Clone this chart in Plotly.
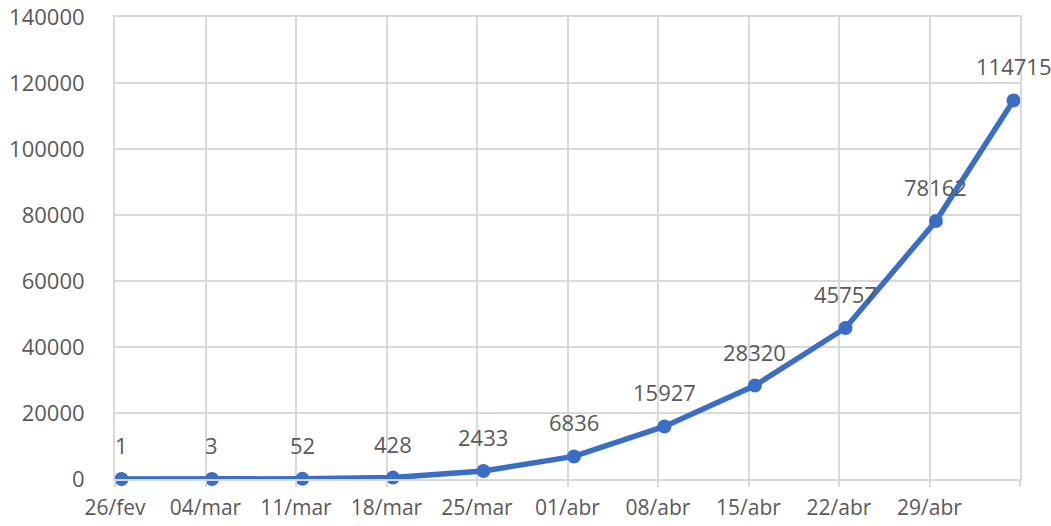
import pandas as pd
import plotly.graph_objects as go

# Weekly cumulative counts
dates = ["2020-02-26", "2020-03-04", "2020-03-11", "2020-03-18", "2020-03-25",
         "2020-04-01", "2020-04-08", "2020-04-15", "2020-04-22", "2020-04-29",
         "2020-05-05"]
cases = [1, 3, 52, 428, 2433, 6836, 15927, 28320, 45757, 78162, 114715]

# Axis ticks (weekly)
tick_dates = ["2020-02-26", "2020-03-04", "2020-03-11", "2020-03-18", "2020-03-25",
              "2020-04-01", "2020-04-08", "2020-04-15", "2020-04-22", "2020-04-29",
              "2020-05-06"]
tick_labels = ["26/fev", "04/mar", "11/mar", "18/mar", "25/mar",
               "01/abr", "08/abr", "15/abr", "22/abr", "29/abr", ""]
y_ticks = [0, 20000, 40000, 60000, 80000, 100000, 120000, 140000]

# points sit in the middle of each day unit
x_pts = pd.to_datetime(dates) + pd.Timedelta(hours=12)

LINE = "#3A6DC4"
TEXT = "#595959"
GRID = "#D9D9D9"
FONT = "Open Sans"

fig = go.Figure()
fig.add_trace(go.Scatter(
    x=x_pts, y=cases, mode="lines+markers",
    line=dict(color=LINE, width=5.5),
    marker=dict(color=LINE, size=14),
    cliponaxis=False, hoverinfo="skip", showlegend=False,
))

for xv, yv in zip(x_pts, cases):
    fig.add_annotation(
        x=xv, y=yv, text=str(yv), showarrow=False, yshift=34,
        font=dict(family=FONT, size=22, color=TEXT),
    )

fig.update_layout(
    width=1051, height=526,
    margin=dict(l=115, r=31, t=17, b=47),
    paper_bgcolor="white", plot_bgcolor="white",
    font=dict(family=FONT, size=22, color=TEXT),
)
fig.update_xaxes(
    type="date", automargin=False,
    range=[tick_dates[0], tick_dates[-1]],
    tickvals=tick_dates, ticktext=tick_labels,
    tickfont=dict(family=FONT, size=21, color=TEXT),
    showgrid=True, gridcolor=GRID, gridwidth=2,
    ticks="outside", ticklen=6, tickcolor=GRID, tickwidth=2,
    ticklabelstandoff=3,
    showline=True, mirror=True, linecolor=GRID, linewidth=2,
    zeroline=False,
)
fig.update_yaxes(
    automargin=False,
    range=[0, 140000],
    tickvals=y_ticks, ticktext=[str(v) for v in y_ticks],
    showgrid=True, gridcolor=GRID, gridwidth=2,
    ticks="", ticklabelstandoff=24,
    showline=True, mirror=True, linecolor=GRID, linewidth=2,
    zeroline=False,
)

fig.write_html("out.html")
